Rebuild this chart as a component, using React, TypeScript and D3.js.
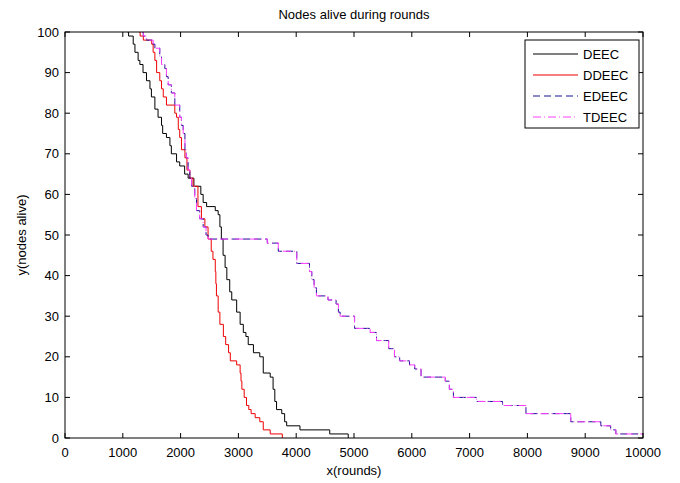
import React from "react";
import * as d3 from "d3";

const xTicks = [0, 1000, 2000, 3000, 4000, 5000, 6000, 7000, 8000, 9000, 10000];
const yTicks = [0, 10, 20, 30, 40, 50, 60, 70, 80, 90, 100];

const deecRounds = [1080, 1100, 1180, 1210, 1265, 1295, 1350, 1410, 1470, 1495, 1555, 1610, 1670, 1690, 1755, 1815, 1840, 1930, 1985, 2070, 2130, 2230, 2350, 2390, 2450, 2600, 2650, 2680, 2705, 2735, 2770, 2800, 2850, 2885, 2970, 3030, 3085, 3130, 3170, 3260, 3370, 3430, 3550, 3600, 3630, 3660, 3750, 3800, 3835, 4065, 4580, 4900];
const deecAlive = [100, 99, 97, 95, 93, 92, 90, 88, 86, 84, 81, 79, 77, 75, 74, 72, 70, 68, 67, 65, 64, 62, 60, 58, 57, 56, 55, 52, 49, 45, 42, 39, 36, 34, 31, 28, 26, 25, 23, 21, 20, 16, 15, 12, 9, 7, 6, 4, 3, 2, 1, 0];

const ddeecRounds = [1280, 1300, 1355, 1500, 1525, 1555, 1585, 1640, 1670, 1700, 1755, 1900, 1930, 1960, 1985, 2015, 2075, 2110, 2160, 2215, 2300, 2360, 2420, 2475, 2530, 2560, 2600, 2610, 2620, 2650, 2680, 2740, 2780, 2830, 2860, 2970, 3030, 3045, 3060, 3100, 3140, 3180, 3220, 3290, 3370, 3430, 3550, 3760];
const ddeecAlive = [100, 99, 98, 97, 95, 93, 90, 88, 86, 84, 82, 80, 79, 76, 74, 71, 69, 66, 64, 62, 57, 54, 52, 49, 46, 44, 41, 38, 35, 31, 28, 25, 23, 21, 19, 18, 16, 14, 12, 10, 8, 7, 6, 5, 4, 2, 1, 0];

const edeecRounds = [1335, 1355, 1410, 1525, 1555, 1640, 1670, 1727, 1755, 1785, 1840, 1900, 1985, 2015, 2045, 2075, 2100, 2130, 2160, 2190, 2245, 2275, 2330, 2390, 2440, 2475, 3500, 3690, 4010, 4230, 4270, 4310, 4350, 4550, 4690, 4730, 4760, 5010, 5280, 5390, 5600, 5700, 5790, 5960, 6050, 6160, 6580, 6650, 6720, 7120, 7570, 7975, 8750, 9270, 9440, 9530, 10000];
const edeecAlive = [100, 99, 98, 97, 96, 94, 92, 91, 89, 87, 85, 82, 79, 77, 75, 71, 69, 66, 64, 62, 59, 56, 54, 52, 50, 49, 48, 46, 43, 41, 39, 37, 35, 34, 33, 31, 30, 27, 26, 24, 22, 20, 19, 18, 17, 15, 14, 12, 10, 9, 8, 6, 4, 3, 2, 1, 1];

const tdeecRounds = [1335, 1355, 1410, 1525, 1555, 1640, 1670, 1727, 1755, 1785, 1840, 1900, 1985, 2015, 2045, 2075, 2100, 2130, 2160, 2190, 2245, 2275, 2330, 2390, 2440, 2475, 3500, 3690, 4010, 4230, 4270, 4310, 4350, 4550, 4690, 4730, 4760, 5010, 5280, 5390, 5600, 5700, 5790, 5960, 6050, 6160, 6580, 6650, 6720, 7120, 7570, 7975, 8750, 9270, 9440, 9530, 10000];
const tdeecAlive = [100, 99, 98, 97, 96, 94, 92, 91, 89, 87, 85, 82, 79, 77, 75, 71, 69, 66, 64, 62, 59, 56, 54, 52, 50, 49, 48, 46, 43, 41, 39, 37, 35, 34, 33, 31, 30, 27, 26, 24, 22, 20, 19, 18, 17, 15, 14, 12, 10, 9, 8, 6, 4, 3, 2, 1, 1];

const seriesNames = ["DEEC", "DDEEC", "EDEEC", "TDEEC"];

const W = 680;
const H = 483;
const L = 65;
const R = 643;
const T = 32;
const B = 438;
const FONT = "'Liberation Sans', Arial, sans-serif";

export default function App() {
  const x = d3.scaleLinear().domain([0, 10000]).range([L, R]);
  const y = d3.scaleLinear().domain([0, 100]).range([B, T]);
  const line = d3
    .line<[number, number]>()
    .x((d) => x(d[0]))
    .y((d) => y(d[1]))
    .curve(d3.curveStepAfter);

  const mk = (rs: number[], as: number[]) => rs.map((r, i) => [r, as[i]] as [number, number]);
  const series = [
    { name: seriesNames[0], data: mk(deecRounds, deecAlive), color: "#000000", dash: "none", op: 1 },
    { name: seriesNames[1], data: mk(ddeecRounds, ddeecAlive), color: "#ee0000", dash: "none", op: 1 },
    { name: seriesNames[2], data: mk(edeecRounds, edeecAlive), color: "#151590", dash: "7,4", op: 1 },
    { name: seriesNames[3], data: mk(tdeecRounds, tdeecAlive), color: "#ff40ff", dash: "8,3,1,3", op: 1 },
  ];

  const legX = 525;
  const legY = 40;
  const legW = 114;
  const legH = 88;

  return (
    <svg width={W} height={H} style={{ position: "absolute", left: 0, top: 0, background: "#fff" }} fontFamily={FONT}>
      <rect x={0} y={0} width={W} height={H} fill="#fff" />
      <defs>
        <clipPath id="plotclip">
          <rect x={L} y={T} width={R - L} height={B - T} />
        </clipPath>
      </defs>
      <g clipPath="url(#plotclip)">
        {series.map((s) => (
          <path
            key={s.name}
            d={line(s.data) || ""}
            fill="none"
            stroke={s.color}
            strokeWidth={1}
            strokeDasharray={s.dash}
            opacity={s.op}
          />
        ))}
      </g>
      <rect x={L} y={T} width={R - L} height={B - T} fill="none" stroke="#000" strokeWidth={1} />
      {xTicks.map((t) => (
        <g key={"x" + t}>
          <line x1={x(t)} x2={x(t)} y1={B} y2={B - 5} stroke="#000" />
          <line x1={x(t)} x2={x(t)} y1={T} y2={T + 5} stroke="#000" />
          <text x={x(t)} y={457} fontSize={13} textAnchor="middle" fill="#000">
            {t}
          </text>
        </g>
      ))}
      {yTicks.map((t) => (
        <g key={"y" + t}>
          <line x1={L} x2={L + 5} y1={y(t)} y2={y(t)} stroke="#000" />
          <line x1={R} x2={R - 5} y1={y(t)} y2={y(t)} stroke="#000" />
          <text x={59} y={y(t) + 4.5} fontSize={13} textAnchor="end" fill="#000">
            {t}
          </text>
        </g>
      ))}
      <text x={(L + R) / 2} y={19} fontSize={13} textAnchor="middle" fill="#000">
        Nodes alive during rounds
      </text>
      <text x={(L + R) / 2} y={475} fontSize={13} textAnchor="middle" fill="#000">
        x(rounds)
      </text>
      <text
        transform={`translate(26,${(T + B) / 2}) rotate(-90)`}
        fontSize={13}
        textAnchor="middle"
        fill="#000"
      >
        y(nodes alive)
      </text>
      <rect x={legX} y={legY} width={legW} height={legH} fill="#fff" stroke="#000" strokeWidth={1} />
      {series.map((s, i) => {
        const cy = legY + 14 + i * 21;
        return (
          <g key={"leg" + s.name}>
            <line x1={533} x2={578} y1={cy} y2={cy} stroke={s.color} strokeWidth={1.2} strokeDasharray={s.dash} opacity={s.op} />
            <text x={583} y={cy + 5} fontSize={13} fill="#000">
              {s.name}
            </text>
          </g>
        );
      })}
    </svg>
  );
}
